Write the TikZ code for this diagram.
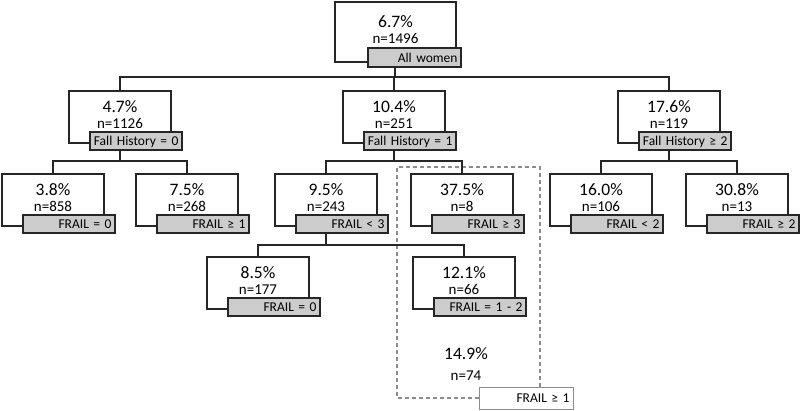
\documentclass[tikz,border=0pt]{standalone}
\usepackage{fontspec}
\setmainfont{Carlito}
\usetikzlibrary{calc}
\definecolor{ln}{HTML}{262626}
\definecolor{labfill}{HTML}{CCCCCC}
\definecolor{dsh}{HTML}{8C8C8C}
\newcommand\tnode[6]{%
  \node[box] (#1) at (#2,#3) {};
  \node[pct] (#1p) at ($(#1.north)+(0,21)$) {#4};
  \node[nn] (#1n) at ($(#1.north)+(0,37)$) {#5};
  \node[lbl] (#1l) at ($(#1.south east)+(11,-11)$) {#6};
}
\begin{document}
\begin{tikzpicture}[x=1pt,y=-1pt,
  box/.style={draw=ln, line width=1.4pt, fill=white, minimum width=102pt,
    minimum height=52pt, anchor=north west, inner sep=0pt, outer sep=0pt},
  lbl/.style={draw=ln, line width=1.2pt, fill=labfill, minimum height=18pt,
    text width=85pt, align=right, inner xsep=3.5pt, inner ysep=0pt,
    anchor=north east, outer sep=0pt,
    font=\fontsize{13.5}{14}\selectfont, text height=9.5pt, text depth=0pt},
  pct/.style={anchor=base, font=\fontsize{17.5}{20}\selectfont, inner sep=0pt},
  nn/.style={anchor=base, font=\fontsize{15}{17}\selectfont, inner sep=0pt},
  conn/.style={draw=ln, line width=1.3pt},
  dashbox/.style={draw=dsh, line width=1.2pt, dash pattern=on 4pt off 3pt}]
\useasboundingbox (0,0) rectangle (800,410);

% root
\node[box, minimum width=121pt, minimum height=60pt] (R) at (335,2) {};
\node[pct] (Rp) at ($(R.north)+(0,25)$) {6.7\%};
\node[nn] (Rn) at ($(R.north)+(0,41)$) {n=1496};
\node[lbl, text width=86pt, minimum height=19pt] (Rl) at (461,48) {All women};

% level 1
\tnode{A}{69}{91}{4.7\%}{n=1126}{Fall History = 0}
\tnode{B}{343}{91}{10.4\%}{n=251}{Fall History = 1}
\tnode{C}{618}{91}{17.6\%}{n=119}{Fall History ≥ 2}

% level 2
\tnode{D}{2}{174}{3.8\%}{n=858}{FRAIL = 0}
\tnode{E}{136}{174}{7.5\%}{n=268}{FRAIL ≥ 1}
\tnode{F}{275}{174}{9.5\%}{n=243}{FRAIL < 3}
\tnode{G}{411}{174}{37.5\%}{n=8}{FRAIL ≥ 3}
\tnode{H}{550}{174}{16.0\%}{n=106}{FRAIL < 2}
\tnode{I}{686}{174}{30.8\%}{n=13}{FRAIL ≥ 2}

% level 3
\tnode{J}{207}{257}{8.5\%}{n=177}{FRAIL = 0}
\tnode{K}{413}{257}{12.1\%}{n=66}{FRAIL = 1 - 2}

% combined group
\node[pct] (Sp) at (466,359) {14.9\%};
\node[nn] (Sn) at (466,380) {n=74};
\node[lbl, draw=dsh, line width=1pt, fill=white, anchor=north west,
  minimum height=22pt, text width=87pt] (Sl) at (479,387) {FRAIL ≥ 1};
\coordinate (d1) at (397,398);
\coordinate (d2) at (397,167);
\coordinate (d3) at (540,167);
\draw[dashbox] (Sl.west) -- (d1) -- (d2) -- (d3) -- (d3 |- Sl.north);

% connectors
\coordinate (j0) at (395,77);
\draw[conn] (j0 |- Rl.south) -- (j0);
\draw[conn] (A.north) -- (A.north |- j0) -- (C.north |- j0) -- (C.north);
\draw[conn] (B.north |- j0) -- (B.north);

\coordinate (jA) at ($(A.south)+(0,18)$);
\draw[conn] (jA |- Al.south) -- (jA);
\draw[conn] (D.north) -- (D.north |- jA) -- (E.north |- jA) -- (E.north);

\coordinate (jB) at ($(B.south)+(0,18)$);
\draw[conn] (jB |- Bl.south) -- (jB);
\draw[conn] (F.north) -- (F.north |- jB) -- (G.north |- jB) -- (G.north);

\coordinate (jC) at ($(C.south)+(0,18)$);
\draw[conn] (jC |- Cl.south) -- (jC);
\draw[conn] (H.north) -- (H.north |- jC) -- (I.north |- jC) -- (I.north);

\coordinate (jF) at ($(F.south)+(0,19)$);
\draw[conn] (jF |- Fl.south) -- (jF);
\draw[conn] (J.north) -- (J.north |- jF) -- (K.north |- jF) -- (K.north);
\end{tikzpicture}
\end{document}
